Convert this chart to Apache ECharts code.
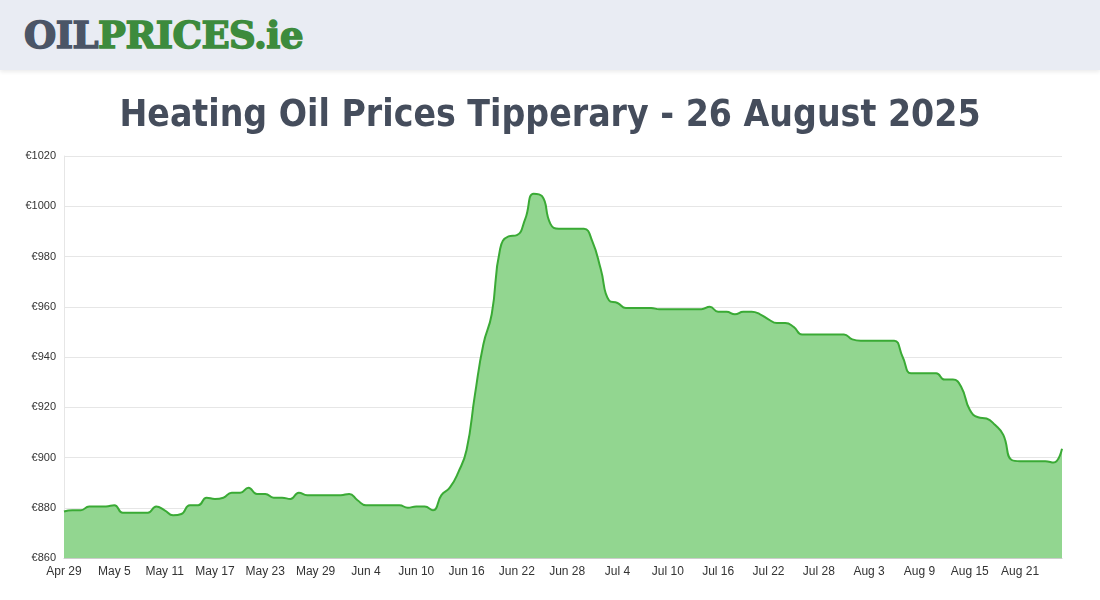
<!DOCTYPE html>
<html><head><meta charset="utf-8">
<script src="https://cdn.jsdelivr.net/npm/echarts@6/dist/echarts.min.js"></script>
<style>
body{margin:0;background:#fff;width:1100px;height:600px;overflow:hidden;font-family:"DejaVu Sans",sans-serif}
#hdr{position:absolute;left:0;top:0;width:1100px;height:70px;background:#e9ecf3;box-shadow:0 2px 4px rgba(0,0,0,0.08)}
#logo{position:absolute;left:24px;top:13px;font-family:"DejaVu Serif",serif;font-weight:900;font-size:37px;letter-spacing:-0.5px;-webkit-text-stroke:1.5px currentColor}
#c{position:absolute;left:0;top:70px;width:1100px;height:530px}
</style></head><body>
<div id="hdr"><div id="logo"><span style="color:#4b5566">OIL</span><span style="color:#3d8b3d">PRICES.ie</span></div></div>
<div id="c"></div>
<script>
const startDate = new Date(2025,3,29);
const values = [878.5,879,879,880.5,880.5,880.5,881,878,878,878,878,880.5,879,877,877.5,881,881,884,883.5,884,886,886,888,885.5,885.5,884,884,883.5,886,885,885,885,885,885,885.5,883,881,881,881,881,881,880,880.5,880.5,879,885,888,894,903,925,945,957,983,988,988.5,995,1005,1004,993,991,991,991,991,986,975,962.5,961.5,959.5,959.5,959.5,959.5,959,959,959,959,959,959,960,958,958,957,958,958,957,955,953.5,953.5,952,949,949,949,949,949,949,947,946.5,946.5,946.5,946.5,946.5,940,933.5,933.5,933.5,933.5,931,931,928,919,916,915.5,913,909,899,898.5,898.5,898.5,898.5,898,903.5];
const months=["Jan","Feb","Mar","Apr","May","Jun","Jul","Aug","Sep","Oct","Nov","Dec"];
const categories = values.map((v,i)=>{const d=new Date(startDate);d.setDate(d.getDate()+i);return months[d.getMonth()]+" "+d.getDate();});
const chart=echarts.init(document.getElementById('c'));
chart.setOption({
 title:{text:"Heating Oil Prices Tipperary - 26 August 2025",left:'center',top:23,textStyle:{fontFamily:"DejaVu Sans Condensed",fontSize:37,fontWeight:'bold',color:'#454d5c'}},
 grid:{left:64,right:38,top:86,bottom:42},
 xAxis:{type:'category',data:categories,boundaryGap:false,axisTick:{show:false},axisLine:{lineStyle:{color:'#ccc'}},
  axisLabel:{interval:5,color:'#333',fontSize:12,fontFamily:'Liberation Sans'}},
 yAxis:{type:'value',min:860,max:1020,interval:20,axisLine:{show:true,lineStyle:{color:'#e6e6e6'}},splitLine:{lineStyle:{color:'#e6e6e6'}},
  axisLabel:{formatter:v=>'€'+v,color:'#333',fontSize:11,fontFamily:'Liberation Sans'}},
 series:[{type:'line',data:values,smooth:true,showSymbol:false,lineStyle:{color:'#3aaa35',width:2},areaStyle:{color:'#92d690',opacity:1}}]
});
</script></body></html>
